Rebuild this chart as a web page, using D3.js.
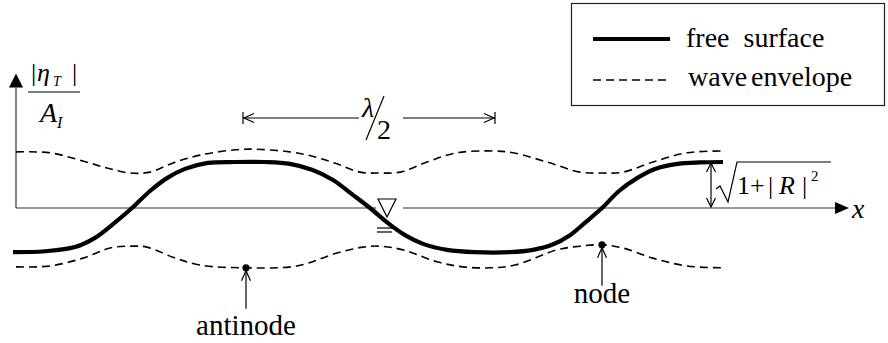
<!DOCTYPE html>
<html>
<head>
<meta charset="utf-8">
<script src="https://cdn.jsdelivr.net/npm/d3@7"></script>
<style>
  body { margin: 0; background: #fff; }
  svg { display: block; }
</style>
</head>
<body>
<script>
// Free surface |eta_T|/A_I, x in wavelengths from the left boundary
const surfaceX = [-0.006, 0.058, 0.118, 0.158, 0.194, 0.232, 0.268, 0.302, 0.338, 0.384, 0.438, 0.498,
                  0.548, 0.592, 0.634, 0.672, 0.708, 0.744, 0.778, 0.814, 0.862, 0.918, 0.988,
                  1.034, 1.072, 1.108, 1.140, 1.172, 1.206, 1.242, 1.278, 1.324, 1.368, 1.414];
const surfaceY = [-0.96, -0.94, -0.85, -0.65, -0.35, 0, 0.37, 0.65, 0.85, 0.98, 1.0, 1.0,
                  0.96, 0.83, 0.61, 0.30, 0, -0.33, -0.59, -0.78, -0.91, -0.96, -0.96,
                  -0.91, -0.80, -0.59, -0.30, 0, 0.37, 0.65, 0.85, 0.96, 0.99, 1.0];

// Upper and lower wave envelope
const upperX = [0, 0.068, 0.128, 0.182, 0.228, 0.268, 0.314, 0.368, 0.434, 0.468, 0.548, 0.598, 0.642,
                0.688, 0.728, 0.768, 0.822, 0.882, 0.954, 0.994, 1.062, 1.128, 1.172, 1.214, 1.274,
                1.342, 1.412];
const upperY = [1.22, 1.20, 1.04, 0.87, 0.76, 0.78, 0.98, 1.15, 1.26, 1.28, 1.22, 1.11, 0.96,
                0.78, 0.76, 0.78, 1.00, 1.20, 1.24, 1.20, 1.00, 0.78, 0.76, 0.78, 1.00,
                1.20, 1.24];
const lowerX = [0, 0.068, 0.134, 0.188, 0.228, 0.262, 0.314, 0.368, 0.462, 0.562, 0.642, 0.694, 0.728,
                0.774, 0.842, 0.894, 0.948, 0.998, 1.082, 1.128, 1.172, 1.214, 1.274, 1.342, 1.412];
const lowerY = [-1.28, -1.26, -1.09, -0.87, -0.83, -0.85, -1.07, -1.24, -1.30, -1.26, -0.98, -0.85, -0.83,
                -0.91, -1.17, -1.28, -1.30, -1.24, -0.91, -0.83, -0.80, -0.87, -1.09, -1.26, -1.30];

// Annotated points
const markerNames = ["antinode", "node"];
const markerX = [0.460, 1.172];
const markerY = [-1.30, -0.80];

// Half-wavelength span and crest height
const halfWaveStart = 0.454, halfWaveEnd = 0.958;
const crestX = 1.39, crestY = 1.0;

const legendLabels = ["free  surface", "wave envelope"];

const W = 888, H = 343;
const svg = d3.select("body").append("svg").attr("width", W).attr("height", H);

const x = d3.scaleLinear().domain([0, 1]).range([16, 516]);
const y = d3.scaleLinear().domain([0, 1]).range([208, 162]);

const ink = "#000";
const axisInk = "#333";

// open chevron arrowhead at (tx,ty) pointing along (dx,dy)
function chevron(g, tx, ty, dx, dy, len = 9, half = 4.5) {
  const n = Math.hypot(dx, dy), ux = dx / n, uy = dy / n;
  const bx = tx - ux * len, by = ty - uy * len;
  g.append("path")
    .attr("d", `M${bx - uy * half},${by + ux * half}L${tx},${ty}L${bx + uy * half},${by - ux * half}`)
    .attr("fill", "none").attr("stroke", ink).attr("stroke-width", 1.2);
}

// Axes
const axes = svg.append("g");
const xEnd = x(1.638);
axes.append("line").attr("x1", x(0)).attr("x2", x(0.72)).attr("y1", y(0)).attr("y2", y(0))
  .attr("stroke", axisInk).attr("stroke-width", 1.2);
axes.append("line").attr("x1", x(0.774)).attr("x2", xEnd).attr("y1", y(0)).attr("y2", y(0))
  .attr("stroke", axisInk).attr("stroke-width", 1.2);
axes.append("path")
  .attr("d", `M${xEnd},${y(0) - 6}L${xEnd + 14},${y(0)}L${xEnd},${y(0) + 6}Z`).attr("fill", ink);
const yTop = y(2.62);
axes.append("line").attr("x1", x(0)).attr("x2", x(0)).attr("y1", y(0)).attr("y2", yTop)
  .attr("stroke", axisInk).attr("stroke-width", 1.2);
axes.append("path")
  .attr("d", `M${x(0) - 7},${yTop}L${x(0)},${yTop - 14}L${x(0) + 7},${yTop}Z`).attr("fill", ink);

axes.append("text").attr("x", xEnd + 17).attr("y", y(0) + 10)
  .attr("font-size", 28).attr("font-style", "italic").text("x");

// y-axis label |eta_T| / A_I
const yl = axes.append("text").attr("y", 81).attr("font-size", 26);
yl.append("tspan").attr("x", 31).text("|");
yl.append("tspan").attr("x", 37).attr("font-style", "italic").text("η");
yl.append("tspan").attr("x", 53).attr("dy", 5).attr("font-size", 14).attr("font-style", "italic").text("T");
yl.append("tspan").attr("x", 72).attr("dy", -5).text("|");
axes.append("line").attr("x1", 28).attr("x2", 80).attr("y1", 92).attr("y2", 92)
  .attr("stroke", ink).attr("stroke-width", 1.2);
const al = axes.append("text").attr("y", 122).attr("font-size", 28).attr("font-style", "italic");
al.append("tspan").attr("x", 40).text("A");
al.append("tspan").attr("x", 57).attr("dy", 6).attr("font-size", 16).text("I");

// Curves
const line = d3.line().x(d => x(d[0])).y(d => y(d[1])).curve(d3.curveCatmullRom.alpha(0.5));
const pts = (xs, ys) => xs.map((v, i) => [v, ys[i]]);

const curves = svg.append("g");
[[upperX, upperY], [lowerX, lowerY]].forEach(([xs, ys]) => {
  curves.append("path").attr("d", line(pts(xs, ys)))
    .attr("fill", "none").attr("stroke", ink).attr("stroke-width", 1.6)
    .attr("stroke-dasharray", "8,5");
});
curves.append("path").attr("d", line(pts(surfaceX, surfaceY)))
  .attr("fill", "none").attr("stroke", ink).attr("stroke-width", 4.2);

// Still-water level symbol at the middle crossing
const swl = svg.append("g");
const sx = x(0.742);
swl.append("path").attr("d", `M${sx - 9},199L${sx + 9},199L${sx},217Z`)
  .attr("fill", "none").attr("stroke", ink).attr("stroke-width", 1.2);
swl.append("line").attr("x1", sx - 10).attr("x2", sx + 7).attr("y1", 228).attr("y2", 228)
  .attr("stroke", ink).attr("stroke-width", 1.2);
swl.append("line").attr("x1", sx - 10).attr("x2", sx + 5).attr("y1", 232).attr("y2", 232)
  .attr("stroke", ink).attr("stroke-width", 1.2);

// Antinode / node markers
const marks = svg.append("g");
const arrowLen = [38, 38];
const labelDrop = [67, 58];
markerNames.forEach((name, i) => {
  const mx = x(markerX[i]), my = y(markerY[i]);
  marks.append("circle").attr("cx", mx).attr("cy", my).attr("r", 3.6).attr("fill", ink);
  marks.append("line").attr("x1", mx).attr("x2", mx).attr("y1", my + 3).attr("y2", my + 3 + arrowLen[i])
    .attr("stroke", ink).attr("stroke-width", 1.2);
  chevron(marks, mx, my + 3, 0, -1, 10, 4.5);
  marks.append("text").attr("x", mx).attr("y", my + labelDrop[i])
    .attr("text-anchor", "middle").attr("font-size", 29).text(name);
});

// lambda/2 span
const lam = svg.append("g");
const ly = y(1.957);
const lx1 = x(halfWaveStart), lx2 = x(halfWaveEnd);
lam.append("line").attr("x1", lx1).attr("x2", 359).attr("y1", ly).attr("y2", ly)
  .attr("stroke", ink).attr("stroke-width", 1.2);
lam.append("line").attr("x1", 403).attr("x2", lx2).attr("y1", ly).attr("y2", ly)
  .attr("stroke", ink).attr("stroke-width", 1.2);
[lx1, lx2].forEach(v => lam.append("line").attr("x1", v).attr("x2", v).attr("y1", ly - 6).attr("y2", ly + 6)
  .attr("stroke", ink).attr("stroke-width", 1.2));
chevron(lam, lx1 + 1, ly, -1, 0, 10, 4.5);
chevron(lam, lx2 - 1, ly, 1, 0, 10, 4.5);
lam.append("text").attr("x", 362).attr("y", 117).attr("font-size", 28).attr("font-style", "italic").text("λ");
lam.append("line").attr("x1", 384).attr("y1", 96).attr("x2", 366).attr("y2", 140)
  .attr("stroke", ink).attr("stroke-width", 1.2);
lam.append("text").attr("x", 377).attr("y", 139).attr("font-size", 28).text("2");

// Crest height sqrt(1+|R|^2)
const cr = svg.append("g");
const cx0 = x(crestX);
cr.append("line").attr("x1", cx0).attr("x2", cx0).attr("y1", y(crestY) + 1).attr("y2", y(0) - 1)
  .attr("stroke", ink).attr("stroke-width", 1.2);
chevron(cr, cx0, y(crestY) + 1, 0, -1, 9, 4.5);
chevron(cr, cx0, y(0) - 1, 0, 1, 9, 4.5);
cr.append("path").attr("d", "M716,189L720,186L728,202L737,162L831,162")
  .attr("fill", "none").attr("stroke", ink).attr("stroke-width", 1.2);
const rt = cr.append("text").attr("y", 194).attr("font-size", 26);
rt.append("tspan").attr("x", 737).text("1+");
rt.append("tspan").attr("x", 768).text("|");
rt.append("tspan").attr("x", 779).attr("font-style", "italic").text("R");
rt.append("tspan").attr("x", 802).text("|");
rt.append("tspan").attr("x", 811).attr("dy", -13).attr("font-size", 15).text("2");

// Legend
const lg = svg.append("g");
lg.append("rect").attr("x", 571.5).attr("y", 3.5).attr("width", 313).attr("height", 102)
  .attr("fill", "#fff").attr("stroke", "#222").attr("stroke-width", 1.2);
lg.append("line").attr("x1", 593).attr("x2", 670).attr("y1", 39).attr("y2", 39)
  .attr("stroke", ink).attr("stroke-width", 4.2);
lg.append("line").attr("x1", 593).attr("x2", 670).attr("y1", 80).attr("y2", 80)
  .attr("stroke", ink).attr("stroke-width", 1.6).attr("stroke-dasharray", "8,5");
lg.append("text").attr("x", 686).attr("y", 47).attr("font-size", 28)
  .style("white-space", "pre").text(legendLabels[0]);
lg.append("text").attr("x", 688).attr("y", 86).attr("font-size", 28)
  .attr("word-spacing", -3).text(legendLabels[1]);

// Serif face on every label
svg.selectAll("text").style("font-family", '"Liberation Serif"');
</script>
</body>
</html>
